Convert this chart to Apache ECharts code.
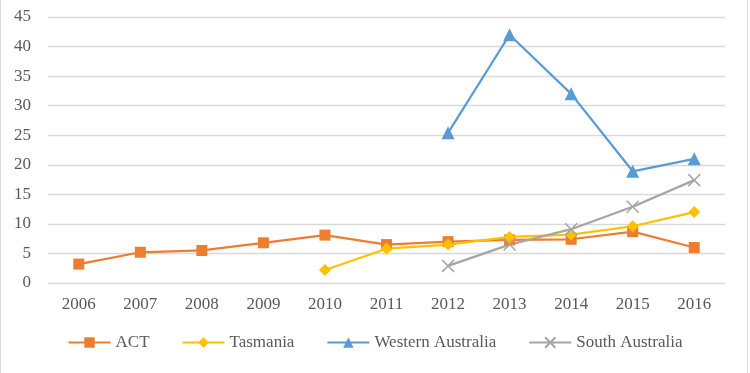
<!DOCTYPE html>
<html>
<head>
<meta charset="utf-8">
<script src="https://cdn.jsdelivr.net/npm/echarts@6/dist/echarts.min.js"></script>
<style>
html,body{margin:0;padding:0;background:#fff;}
#frame{position:absolute;left:0;top:0;width:746px;height:373px;border-left:1px solid #d9d9d9;border-right:1px solid #d9d9d9;}
#chart{position:absolute;left:0;top:0;width:750px;height:373px;}
</style>
</head>
<body>
<div id="frame"></div>
<div id="chart"></div>
<script>
var years = ['2006','2007','2008','2009','2010','2011','2012','2013','2014','2015','2016'];
var act = [3.2, 5.2, 5.5, 6.8, 8.1, 6.5, 7.0, 7.3, 7.4, 8.7, 6.0];
var tasmania = [null, null, null, null, 2.2, 5.8, 6.5, 7.8, 8.2, 9.6, 12.0];
var westernAustralia = [null, null, null, null, null, null, 25.4, 42.0, 32.0, 18.9, 21.0];
var southAustralia = [null, null, null, null, null, null, 2.9, 6.5, 9.1, 12.9, 17.4];
var yTicks = {min: 0, max: 45, interval: 5};

var font = 'Liberation Serif';
var txt = '#595959';
var chart = echarts.init(document.getElementById('chart'));
function mk(name, data, color, symbol, size, extra) {
  var s = {
    name: name, type: 'line', data: data, symbol: symbol, symbolSize: size,
    showAllSymbol: true,
    lineStyle: {color: color, width: 2.25},
    itemStyle: {color: color},
    emphasis: {disabled: true},
    animation: false
  };
  if (extra) Object.assign(s, extra);
  return s;
}
chart.setOption({
  animation: false,
  grid: {left: 48, right: 25, top: 17, bottom: 90, containLabel: false},
  legend: {
    bottom: 17, left: 'center', itemGap: 32, itemWidth: 42, itemHeight: 13,
    textStyle: {fontFamily: font, fontSize: 17, color: txt},
    data: ['ACT', 'Tasmania', 'Western Australia', 'South Australia']
  },
  xAxis: {
    type: 'category', data: years, boundaryGap: true,
    axisLine: {show: false}, axisTick: {show: false},
    axisLabel: {fontFamily: font, fontSize: 17, color: txt, margin: 13}
  },
  yAxis: {
    type: 'value', min: yTicks.min, max: yTicks.max, interval: yTicks.interval,
    axisLine: {show: false}, axisTick: {show: false},
    splitLine: {lineStyle: {color: '#d9d9d9', width: 1.3}},
    axisLabel: {fontFamily: font, fontSize: 17, color: txt, margin: 17}
  },
  series: [
    mk('ACT', act, '#ed7d31', 'rect', 11),
    mk('Tasmania', tasmania, '#ffc000', 'diamond', 12),
    mk('Western Australia', westernAustralia, '#5b9bd5', 'triangle', 13),
    mk('South Australia', southAustralia, '#a5a5a5', 'path://M0,0L10,10M10,0L0,10', 12, {
      itemStyle: {color: 'rgba(0,0,0,0)', borderColor: '#a5a5a5', borderWidth: 1.5}
    })
  ]
});
</script>
</body>
</html>
